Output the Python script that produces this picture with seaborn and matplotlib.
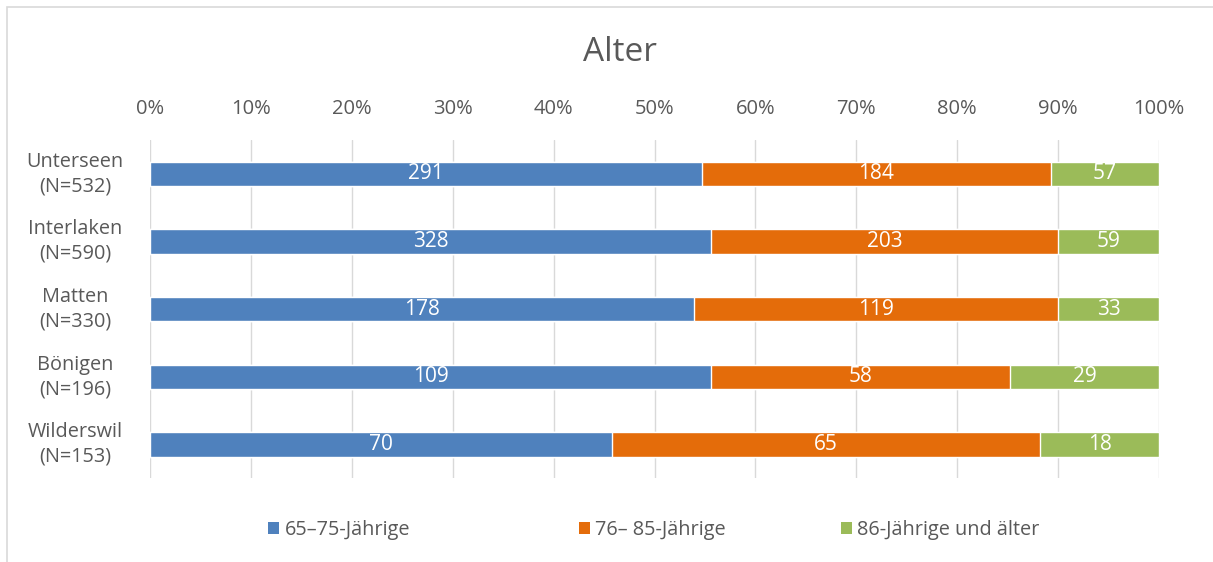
import pandas as pd
import numpy as np
import matplotlib.pyplot as plt
import seaborn as sns
from matplotlib.patches import Patch, Rectangle

sns.set_theme(style='white')
plt.rcParams['font.family'] = ['Open Sans', 'DejaVu Sans']

## Data
gemeinden = ['Unterseen\n(N=532)', 'Interlaken\n(N=590)', 'Matten\n(N=330)',
             'Bönigen\n(N=196)', 'Wilderswil\n(N=153)']
gruppen = ['65–75-Jährige', '76– 85-Jährige', '86-Jährige und älter']
jung = [291, 328, 178, 109, 70]
mittel = [184, 203, 119, 58, 65]
alt = [57, 59, 33, 29, 18]
farben = ['#4F81BD', '#E46C0A', '#9BBB59']

df = pd.DataFrame({'Gemeinde': gemeinden, 'jung': jung, 'mittel': mittel, 'alt': alt})
total = df[['jung', 'mittel', 'alt']].sum(axis=1)
pct = df[['jung', 'mittel', 'alt']].div(total, axis=0) * 100
cum = pct.cumsum(axis=1)

fig = plt.figure(figsize=(12.13, 5.62), dpi=100)
ax = fig.add_axes([0.1237, 0.149, 0.8318, 0.602])

# stacked bars: draw cumulative totals back to front
for col, c in zip(['alt', 'mittel', 'jung'], farben[::-1]):
    sns.barplot(x=cum[col], y=df['Gemeinde'], color=c, orient='h', width=0.36,
                edgecolor='white', linewidth=1, saturation=1, ax=ax, zorder=3)

# value labels
for i in range(len(df)):
    starts = [0, cum['jung'][i], cum['mittel'][i]]
    for col, s in zip(['jung', 'mittel', 'alt'], starts):
        ax.text(s + pct[col][i] / 2, i, str(df[col][i]), ha='center', va='center',
                color='white', fontsize=15, zorder=4)

ax.set_xlim(0, 100)
ax.set_ylim(4.5, -0.5)
ax.set_xticks(np.arange(0, 101, 10))
ax.set_xticklabels([f'{v}%' for v in range(0, 101, 10)])
ax.xaxis.tick_top()
ax.tick_params(axis='x', length=0, pad=15, labelsize=14.5, labelcolor='#595959')
ax.tick_params(axis='y', length=0)
ax.set_yticklabels([])

# category labels centred left of the bars
for i, g in enumerate(gemeinden):
    ax.text(-0.0743, i, g, transform=ax.get_yaxis_transform(), ha='center',
            va='center', multialignment='center', linespacing=1.3,
            fontsize=14.3, color='#595959')

ax.grid(axis='x', color='#d9d9d9', linewidth=1, zorder=0)
ax.set_xlabel('')
ax.set_ylabel('')
for s in ax.spines.values():
    s.set_visible(False)

fig.text(0.511, 0.907, 'Alter', ha='center', va='center', fontsize=24, color='#595959')

# legend entries placed like the Excel legend
for c, g, xpos in zip(farben, gruppen, [0.221, 0.477, 0.693]):
    fig.legend([Patch(facecolor=c, edgecolor='none')], [g], loc='center left',
               bbox_to_anchor=(xpos, 0.057), frameon=False, fontsize=14.3,
               labelcolor='#595959', handlelength=0.55, handleheight=0.55,
               handletextpad=0.3, borderaxespad=0, borderpad=0)

fig.patches.append(Rectangle((7 / 1213, -0.01), 1.0, 1 - 7 / 562 + 0.01,
                             transform=fig.transFigure, fill=False,
                             edgecolor='#d9d9d9', linewidth=1.2))

fig.savefig('out.png', dpi=100)
